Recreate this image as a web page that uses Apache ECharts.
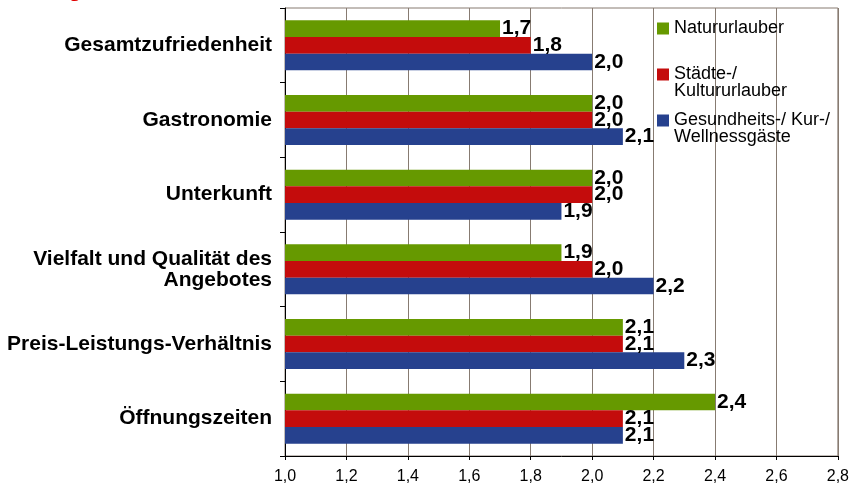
<!DOCTYPE html>
<html>
<head>
<meta charset="utf-8">
<script src="https://cdn.jsdelivr.net/npm/echarts@6/dist/echarts.min.js"></script>
<style>
  html, body { margin: 0; padding: 0; background: #fff; }
  #chart { width: 852px; height: 485px; }
</style>
</head>
<body>
<div id="chart"></div>
<script>
// categories top to bottom
const categories = [
  'Gesamtzufriedenheit',
  'Gastronomie',
  'Unterkunft',
  'Vielfalt und Qualität des\nAngebotes',
  'Preis-Leistungs-Verhältnis',
  'Öffnungszeiten'
]
const natur = [1.7, 2.0, 2.0, 1.9, 2.1, 2.4]
const staedte = [1.8, 2.0, 2.0, 2.0, 2.1, 2.1]
const wellness = [2.0, 2.1, 1.9, 2.2, 2.3, 2.1]
const seriesNames = ['Natururlauber', 'Städte-/\nKultururlauber', 'Gesundheits-/ Kur-/\nWellnessgäste']
const colors = ['#669900', '#c40c0c', '#26418e']

const comma = v => Number(v).toFixed(1).replace('.', ',')
const font = 'Liberation Sans, Arial, sans-serif'
const gridColor = '#877b71'

const barSeries = (name, data, color) => ({
  name: name,
  type: 'bar',
  data: data,
  barGap: '0%',
  barCategoryGap: '33%',
  itemStyle: { color: color },
  label: {
    show: true,
    position: 'right',
    distance: 2,
    formatter: p => comma(p.value),
    color: '#000',
    fontFamily: font,
    fontWeight: 'bold',
    fontSize: 21
  }
})

// two-line names get an empty first line so the square sits beside line one
const legendBox = (name, top, twoLines) => ({
  data: [name],
  orient: 'vertical',
  left: 657,
  top: top,
  padding: 0,
  itemWidth: 12,
  itemHeight: 12,
  icon: 'rect',
  selectedMode: false,
  formatter: n => twoLines ? '\u00a0\n' + n : n,
  textStyle: {
    fontFamily: font,
    fontSize: 18,
    lineHeight: 17,
    color: '#000'
  }
})

const chart = echarts.init(document.getElementById('chart'))
chart.setOption({
  animation: false,
  title: {
    text: 'Bewertung in „Schulnoten“',
    left: -32,
    top: -21,
    padding: 0,
    textStyle: { color: '#e00000', fontFamily: font, fontWeight: 'bold', fontSize: 22, lineHeight: 22 }
  },
  legend: [
    legendBox(seriesNames[0], 19.5, false),
    legendBox(seriesNames[1], 48.5, true),
    legendBox(seriesNames[2], 94.5, true)
  ],
  grid: {
    left: 285,
    right: 11,
    top: 8,
    bottom: 28,
    show: true,
    borderColor: gridColor,
    borderWidth: 1
  },
  xAxis: {
    type: 'value',
    min: 1,
    max: 2.8,
    interval: 0.2,
    axisLine: { show: true, lineStyle: { color: '#000' } },
    axisTick: { show: true, length: 4, lineStyle: { color: '#000' } },
    splitLine: { show: true, lineStyle: { color: gridColor, width: 1 } },
    axisLabel: {
      formatter: v => comma(v),
      color: '#000',
      fontFamily: font,
      fontSize: 16,
      margin: 13
    }
  },
  yAxis: {
    type: 'category',
    inverse: true,
    data: categories,
    axisLine: { show: true, lineStyle: { color: '#000' } },
    axisTick: { show: true, length: 5, lineStyle: { color: '#000' } },
    axisLabel: {
      color: '#000',
      fontFamily: font,
      fontWeight: 'bold',
      fontSize: 21,
      lineHeight: 21,
      margin: 13,
      align: 'right'
    }
  },
  series: [
    barSeries(seriesNames[0], natur, colors[0]),
    barSeries(seriesNames[1], staedte, colors[1]),
    barSeries(seriesNames[2], wellness, colors[2])
  ]
})
</script>
</body>
</html>
